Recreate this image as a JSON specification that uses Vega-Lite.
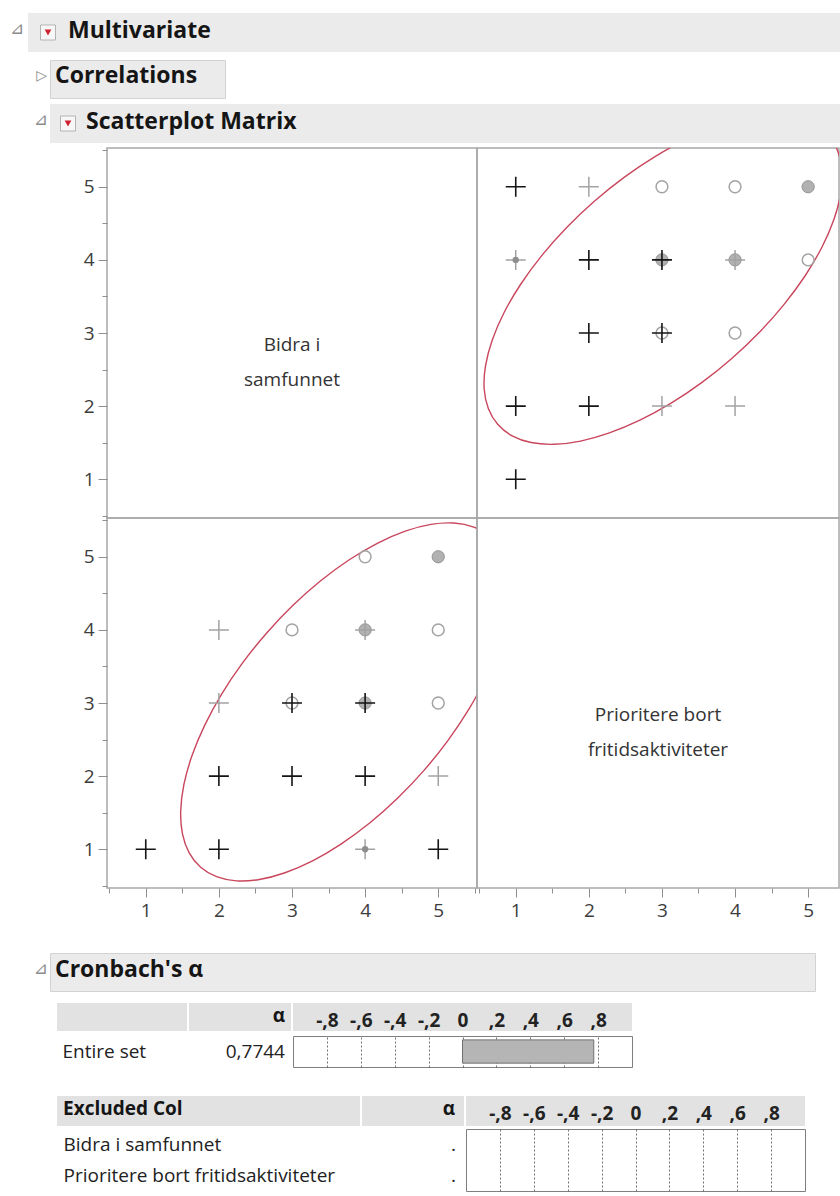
{
  "$schema": "https://vega.github.io/schema/vega-lite/v6.json",
  "background": "#ffffff",
  "padding": {"left": 0, "top": 13, "right": 0, "bottom": 0},
  "spacing": 0,
  "datasets": {
    "punkter": [
      {"bidra": 5, "prioritere": 1, "gruppe": "A", "n": 1},
      {"bidra": 5, "prioritere": 2, "gruppe": "B", "n": 1},
      {"bidra": 5, "prioritere": 3, "gruppe": "C", "n": 1},
      {"bidra": 5, "prioritere": 4, "gruppe": "C", "n": 1},
      {"bidra": 5, "prioritere": 5, "gruppe": "C", "n": 3},
      {"bidra": 4, "prioritere": 1, "gruppe": "B", "n": 3},
      {"bidra": 4, "prioritere": 2, "gruppe": "A", "n": 1},
      {"bidra": 4, "prioritere": 3, "gruppe": "A", "n": 2},
      {"bidra": 4, "prioritere": 3, "gruppe": "C", "n": 3},
      {"bidra": 4, "prioritere": 4, "gruppe": "C", "n": 3},
      {"bidra": 4, "prioritere": 4, "gruppe": "B", "n": 1},
      {"bidra": 4, "prioritere": 5, "gruppe": "C", "n": 1},
      {"bidra": 3, "prioritere": 2, "gruppe": "A", "n": 1},
      {"bidra": 3, "prioritere": 3, "gruppe": "A", "n": 1},
      {"bidra": 3, "prioritere": 3, "gruppe": "C", "n": 1},
      {"bidra": 3, "prioritere": 4, "gruppe": "C", "n": 1},
      {"bidra": 2, "prioritere": 1, "gruppe": "A", "n": 1},
      {"bidra": 2, "prioritere": 2, "gruppe": "A", "n": 1},
      {"bidra": 2, "prioritere": 3, "gruppe": "B", "n": 1},
      {"bidra": 2, "prioritere": 4, "gruppe": "B", "n": 1},
      {"bidra": 1, "prioritere": 1, "gruppe": "A", "n": 1}
    ],
    "ellipse": [
      {"t": 0, "prioritere": 5.276, "bidra": 5.703},
      {"t": 10, "prioritere": 5.079, "bidra": 5.859},
      {"t": 20, "prioritere": 4.818, "bidra": 5.951},
      {"t": 30, "prioritere": 4.503, "bidra": 5.976},
      {"t": 40, "prioritere": 4.143, "bidra": 5.932},
      {"t": 50, "prioritere": 3.749, "bidra": 5.821},
      {"t": 60, "prioritere": 3.332, "bidra": 5.646},
      {"t": 70, "prioritere": 2.905, "bidra": 5.413},
      {"t": 80, "prioritere": 2.482, "bidra": 5.129},
      {"t": 90, "prioritere": 2.075, "bidra": 4.802},
      {"t": 100, "prioritere": 1.697, "bidra": 4.443},
      {"t": 110, "prioritere": 1.358, "bidra": 4.062},
      {"t": 120, "prioritere": 1.070, "bidra": 3.670},
      {"t": 130, "prioritere": 0.841, "bidra": 3.281},
      {"t": 140, "prioritere": 0.679, "bidra": 2.905},
      {"t": 150, "prioritere": 0.587, "bidra": 2.554},
      {"t": 160, "prioritere": 0.568, "bidra": 2.238},
      {"t": 170, "prioritere": 0.625, "bidra": 1.968},
      {"t": 180, "prioritere": 0.753, "bidra": 1.751},
      {"t": 190, "prioritere": 0.951, "bidra": 1.594},
      {"t": 200, "prioritere": 1.211, "bidra": 1.502},
      {"t": 210, "prioritere": 1.526, "bidra": 1.478},
      {"t": 220, "prioritere": 1.887, "bidra": 1.522},
      {"t": 230, "prioritere": 2.281, "bidra": 1.633},
      {"t": 240, "prioritere": 2.698, "bidra": 1.807},
      {"t": 250, "prioritere": 3.125, "bidra": 2.040},
      {"t": 260, "prioritere": 3.548, "bidra": 2.324},
      {"t": 270, "prioritere": 3.955, "bidra": 2.651},
      {"t": 280, "prioritere": 4.333, "bidra": 3.010},
      {"t": 290, "prioritere": 4.671, "bidra": 3.392},
      {"t": 300, "prioritere": 4.959, "bidra": 3.783},
      {"t": 310, "prioritere": 5.188, "bidra": 4.173},
      {"t": 320, "prioritere": 5.351, "bidra": 4.549},
      {"t": 330, "prioritere": 5.443, "bidra": 4.900},
      {"t": 340, "prioritere": 5.461, "bidra": 5.216},
      {"t": 350, "prioritere": 5.405, "bidra": 5.486}
    ],
    "alfa_hele": [{"gruppe": "Entire set", "alfa": 0.7744}],
    "alfa_utelatt": [
      {"kolonne": "Bidra i samfunnet", "alfa": null},
      {"kolonne": "Prioritere bort fritidsaktiviteter", "alfa": null}
    ]
  },
  "vconcat": [
    {"hconcat": [
      {"width": 28, "height": 46, "data": {"values": []}, "mark": {"type": "point", "opacity": 0}, "encoding": {},
       "title": {"text": "⊿", "anchor": "middle", "dx": 3, "offset": -25, "font": "DejaVu Sans", "fontSize": 17, "fontWeight": "normal", "color": "#8c8c8c"}},
      {"width": 40, "height": 39, "view": {"fill": "#ebebeb"}, "data": {"values": [{"knapp": "meny"}]},
       "layer": [
         {"mark": {"type": "point", "shape": "square", "size": 225, "filled": true, "fill": "#f7f7f7", "stroke": "#b4b4b4", "strokeWidth": 1, "opacity": 1}, "encoding": {}},
         {"mark": {"type": "point", "shape": "triangle-down", "size": 45, "filled": true, "color": "#d0202f", "opacity": 1}, "encoding": {}}
       ]},
      {"width": 772, "height": 39, "view": {"fill": "#ebebeb"}, "data": {"values": []}, "mark": {"type": "point", "opacity": 0}, "encoding": {},
       "title": {"text": "Multivariate", "dx": 0, "offset": -30}}
    ], "spacing": 0, "bounds": "flush"},

    {"hconcat": [
      {"width": 50, "height": 44, "data": {"values": []}, "mark": {"type": "point", "opacity": 0}, "encoding": {},
       "title": {"text": "▷", "anchor": "end", "dx": -3, "offset": -23, "font": "DejaVu Sans", "fontSize": 14, "fontWeight": "normal", "color": "#8c8c8c"}},
      {"width": 175, "height": 38, "view": {"fill": "#ebebeb", "stroke": "#d2d2d2", "strokeWidth": 1}, "data": {"values": []}, "mark": {"type": "point", "opacity": 0}, "encoding": {},
       "title": {"text": "Correlations", "dx": 5, "offset": -28}}
    ], "spacing": 0, "bounds": "flush"},

    {"hconcat": [
      {"width": 50, "height": 43, "data": {"values": []}, "mark": {"type": "point", "opacity": 0}, "encoding": {},
       "title": {"text": "⊿", "anchor": "end", "dx": -2, "offset": -25, "font": "DejaVu Sans", "fontSize": 17, "fontWeight": "normal", "color": "#8c8c8c"}},
      {"width": 36, "height": 39, "view": {"fill": "#ebebeb"}, "data": {"values": [{"knapp": "meny"}]},
       "layer": [
         {"mark": {"type": "point", "shape": "square", "size": 225, "filled": true, "fill": "#f7f7f7", "stroke": "#b4b4b4", "strokeWidth": 1, "opacity": 1}, "encoding": {}},
         {"mark": {"type": "point", "shape": "triangle-down", "size": 45, "filled": true, "color": "#d0202f", "opacity": 1}, "encoding": {}}
       ]},
      {"width": 754, "height": 39, "view": {"fill": "#ebebeb"}, "data": {"values": []}, "mark": {"type": "point", "opacity": 0}, "encoding": {},
       "title": {"text": "Scatterplot Matrix", "dx": 0, "offset": -30}}
    ], "spacing": 0, "bounds": "flush"},

    {"hconcat": [
      {"width": 107, "height": 804, "data": {"values": []}, "mark": {"type": "point", "opacity": 0}, "encoding": {}},
      {"concat": [
        {"width": 370, "height": 370, "view": {"stroke": "#a8a8a8", "strokeWidth": 1.5},
         "data": {"values": [{"variabel": "Bidra i samfunnet"}]},
         "mark": {"type": "text", "fontSize": 19, "color": "#333333", "lineHeight": 35, "dy": 12},
         "encoding": {"text": {"value": ["Bidra i", "samfunnet"]}}},
        {"width": 362, "height": 370, "view": {"stroke": "#a8a8a8", "strokeWidth": 1.5},
         "resolve": {"axis": {"x": "independent", "y": "independent"}},
         "layer": [
           {"data": {"name": "ellipse"}, "mark": {"type": "line", "clip": true, "interpolate": "cardinal-closed", "color": "#c9465c", "strokeWidth": 1.4},
            "encoding": {
              "x": {"field": "prioritere", "type": "quantitative", "title": null,
                    "scale": {"domain": [0.47, 5.422], "nice": false, "zero": false},
                    "axis": {"orient": "bottom", "offset": 370, "values": [1, 2, 3, 4, 5], "format": "d", "tickSize": 9, "labelPadding": 4}},
              "y": {"field": "bidra", "type": "quantitative", "title": null,
                    "scale": {"domain": [0.47, 5.53], "nice": false, "zero": false},
                    "axis": {"orient": "left", "offset": 370, "values": [1, 2, 3, 4, 5], "format": "d", "tickSize": 9, "labelPadding": 4}},
              "order": {"field": "t", "type": "quantitative"}}},
           {"data": {"name": "punkter"}, "transform": [{"filter": "datum.gruppe === 'C' && datum.n > 1"}],
            "mark": {"type": "point", "shape": "circle", "filled": true, "size": 150, "fill": "#b1b1b1", "stroke": "#939393", "strokeWidth": 1, "opacity": 1},
            "encoding": {"x": {"field": "prioritere", "type": "quantitative", "axis": null}, "y": {"field": "bidra", "type": "quantitative", "axis": null}}},
           {"data": {"name": "punkter"}, "transform": [{"filter": "datum.gruppe === 'C' && datum.n === 1"}],
            "mark": {"type": "point", "shape": "circle", "filled": false, "size": 140, "color": "#a3a3a3", "strokeWidth": 1.5, "opacity": 1},
            "encoding": {"x": {"field": "prioritere", "type": "quantitative", "axis": null}, "y": {"field": "bidra", "type": "quantitative", "axis": null}}},
           {"data": {"name": "punkter"}, "transform": [{"filter": "datum.gruppe === 'B'"}],
            "mark": {"type": "point", "shape": "M-1,0H1M0,-1V1", "filled": false, "size": 400, "color": "#a3a3a3", "strokeWidth": 1.5, "opacity": 1},
            "encoding": {"x": {"field": "prioritere", "type": "quantitative", "axis": null}, "y": {"field": "bidra", "type": "quantitative", "axis": null}}},
           {"data": {"name": "punkter"}, "transform": [{"filter": "datum.gruppe === 'B' && datum.n > 1"}],
            "mark": {"type": "point", "shape": "circle", "filled": true, "size": 40, "color": "#8e8e8e", "opacity": 1},
            "encoding": {"x": {"field": "prioritere", "type": "quantitative", "axis": null}, "y": {"field": "bidra", "type": "quantitative", "axis": null}}},
           {"data": {"name": "punkter"}, "transform": [{"filter": "datum.gruppe === 'A'"}],
            "mark": {"type": "point", "shape": "M-1,0H1M0,-1V1", "filled": false, "size": 400, "color": "#151515", "strokeWidth": 1.6, "opacity": 1},
            "encoding": {
              "x": {"field": "prioritere", "type": "quantitative", "title": null,
                    "axis": {"orient": "bottom", "offset": 370, "values": [0.5, 1.5, 2.5, 3.5, 4.5], "labels": false, "tickSize": 5}},
              "y": {"field": "bidra", "type": "quantitative", "title": null,
                    "axis": {"orient": "left", "offset": 370, "values": [0.5, 1.5, 2.5, 3.5, 4.5, 5.5], "labels": false, "tickSize": 5}}}}
         ]},
        {"width": 370, "height": 370, "view": {"stroke": "#a8a8a8", "strokeWidth": 1.5},
         "resolve": {"axis": {"x": "independent", "y": "independent"}},
         "layer": [
           {"data": {"name": "ellipse"}, "mark": {"type": "line", "clip": true, "interpolate": "cardinal-closed", "color": "#c9465c", "strokeWidth": 1.4},
            "encoding": {
              "x": {"field": "bidra", "type": "quantitative", "title": null,
                    "scale": {"domain": [0.47, 5.53], "nice": false, "zero": false},
                    "axis": {"orient": "bottom", "values": [1, 2, 3, 4, 5], "format": "d", "tickSize": 9, "labelPadding": 4}},
              "y": {"field": "prioritere", "type": "quantitative", "title": null,
                    "scale": {"domain": [0.47, 5.53], "nice": false, "zero": false},
                    "axis": {"orient": "left", "values": [1, 2, 3, 4, 5], "format": "d", "tickSize": 9, "labelPadding": 4}},
              "order": {"field": "t", "type": "quantitative"}}},
           {"data": {"name": "punkter"}, "transform": [{"filter": "datum.gruppe === 'C' && datum.n > 1"}],
            "mark": {"type": "point", "shape": "circle", "filled": true, "size": 150, "fill": "#b1b1b1", "stroke": "#939393", "strokeWidth": 1, "opacity": 1},
            "encoding": {"x": {"field": "bidra", "type": "quantitative", "axis": null}, "y": {"field": "prioritere", "type": "quantitative", "axis": null}}},
           {"data": {"name": "punkter"}, "transform": [{"filter": "datum.gruppe === 'C' && datum.n === 1"}],
            "mark": {"type": "point", "shape": "circle", "filled": false, "size": 140, "color": "#a3a3a3", "strokeWidth": 1.5, "opacity": 1},
            "encoding": {"x": {"field": "bidra", "type": "quantitative", "axis": null}, "y": {"field": "prioritere", "type": "quantitative", "axis": null}}},
           {"data": {"name": "punkter"}, "transform": [{"filter": "datum.gruppe === 'B'"}],
            "mark": {"type": "point", "shape": "M-1,0H1M0,-1V1", "filled": false, "size": 400, "color": "#a3a3a3", "strokeWidth": 1.5, "opacity": 1},
            "encoding": {"x": {"field": "bidra", "type": "quantitative", "axis": null}, "y": {"field": "prioritere", "type": "quantitative", "axis": null}}},
           {"data": {"name": "punkter"}, "transform": [{"filter": "datum.gruppe === 'B' && datum.n > 1"}],
            "mark": {"type": "point", "shape": "circle", "filled": true, "size": 40, "color": "#8e8e8e", "opacity": 1},
            "encoding": {"x": {"field": "bidra", "type": "quantitative", "axis": null}, "y": {"field": "prioritere", "type": "quantitative", "axis": null}}},
           {"data": {"name": "punkter"}, "transform": [{"filter": "datum.gruppe === 'A'"}],
            "mark": {"type": "point", "shape": "M-1,0H1M0,-1V1", "filled": false, "size": 400, "color": "#151515", "strokeWidth": 1.6, "opacity": 1},
            "encoding": {
              "x": {"field": "bidra", "type": "quantitative", "title": null,
                    "axis": {"orient": "bottom", "values": [0.5, 1.5, 2.5, 3.5, 4.5, 5.5], "labels": false, "tickSize": 5}},
              "y": {"field": "prioritere", "type": "quantitative", "title": null,
                    "axis": {"orient": "left", "values": [0.5, 1.5, 2.5, 3.5, 4.5, 5.5], "labels": false, "tickSize": 5}}}}
         ]},
        {"width": 362, "height": 370, "view": {"stroke": "#a8a8a8", "strokeWidth": 1.5},
         "data": {"values": [{"variabel": "Prioritere bort fritidsaktiviteter"}]},
         "mark": {"type": "text", "fontSize": 19, "color": "#333333", "lineHeight": 35, "dy": 12},
         "encoding": {"text": {"value": ["Prioritere bort", "fritidsaktiviteter"]}}}
      ], "columns": 2, "spacing": 0, "bounds": "flush"}
    ], "spacing": 0, "bounds": "flush"},

    {"hconcat": [
      {"width": 50, "height": 50, "data": {"values": []}, "mark": {"type": "point", "opacity": 0}, "encoding": {},
       "title": {"text": "⊿", "anchor": "end", "dx": -2, "offset": -25, "font": "DejaVu Sans", "fontSize": 17, "fontWeight": "normal", "color": "#8c8c8c"}},
      {"width": 765, "height": 38, "view": {"fill": "#ebebeb", "stroke": "#d2d2d2", "strokeWidth": 1}, "data": {"values": []}, "mark": {"type": "point", "opacity": 0}, "encoding": {},
       "title": {"text": "Cronbach's α", "dx": 5, "offset": -29}}
    ], "spacing": 0, "bounds": "flush"},

    {"hconcat": [
      {"width": 55, "height": 32, "data": {"values": []}, "mark": {"type": "point", "opacity": 0}, "encoding": {}},
      {"width": 130, "height": 28, "view": {"fill": "#e2e2e2"}, "data": {"values": []}, "mark": {"type": "point", "opacity": 0}, "encoding": {}},
      {"width": 102, "height": 28, "view": {"fill": "#e2e2e2"}, "data": {"values": []}, "mark": {"type": "point", "opacity": 0}, "encoding": {},
       "title": {"text": "α", "anchor": "end", "dx": -6, "offset": -23, "fontSize": 19}},
      {"width": 339, "height": 28, "view": {"fill": "#e2e2e2"}, "data": {"values": [{}]},
       "mark": {"type": "point", "opacity": 0},
       "encoding": {"x": {"datum": 0, "type": "quantitative", "title": null, "scale": {"domain": [-1, 1], "nice": false},
                          "axis": {"orient": "top", "offset": -28, "values": [-0.8, -0.6, -0.4, -0.2, 0, 0.2, 0.4, 0.6, 0.8], "ticks": false, "tickSize": 0, "labelPadding": 5,
                                   "labelBaseline": "alphabetic", "labelFontWeight": "bold", "labelColor": "#222222",
                                   "labelExpr": "datum.value === 0 ? '0' : (datum.value < 0 ? '-' : '') + ',' + round(abs(datum.value) * 10)"}}}}
    ], "spacing": 2, "bounds": "flush"},

    {"hconcat": [
      {"width": 291, "height": 60, "data": {"values": []}, "mark": {"type": "point", "opacity": 0}, "encoding": {}},
      {"width": 339, "height": 31, "view": {"stroke": "#7f7f7f", "strokeWidth": 1, "fill": "#ffffff"},
       "data": {"name": "alfa_hele"},
       "encoding": {
         "y": {"field": "gruppe", "type": "nominal", "title": null, "sort": null,
               "scale": {"paddingInner": 0.1, "paddingOuter": 0.15},
               "axis": {"orient": "left", "ticks": false, "tickSize": 0, "labelAlign": "left", "labelPadding": 231, "labelColor": "#222222", "labelLimit": 400}}
       },
       "layer": [
         {"mark": {"type": "bar", "color": "#b5b5b5", "stroke": "#707070", "strokeWidth": 1},
          "encoding": {"x": {"field": "alfa", "type": "quantitative", "title": null,
                             "scale": {"domain": [-1, 1], "nice": false},
                             "axis": {"orient": "bottom", "values": [-0.8, -0.6, -0.4, -0.2, 0, 0.2, 0.4, 0.6, 0.8], "grid": true, "gridDash": [2, 2], "gridColor": "#707070", "gridWidth": 1,
                                      "ticks": false, "labels": false}}}},
         {"mark": {"type": "text", "align": "right", "dx": -8, "fontSize": 19, "color": "#222222"},
          "encoding": {"x": {"datum": -1, "type": "quantitative"},
                       "text": {"condition": {"test": "isValid(datum.alfa)", "field": "alfa", "type": "quantitative", "format": ".4f"}, "value": "."}}}
       ]}
    ], "spacing": 2, "bounds": "flush"},

    {"hconcat": [
      {"width": 55, "height": 32, "data": {"values": []}, "mark": {"type": "point", "opacity": 0}, "encoding": {}},
      {"width": 303, "height": 30, "view": {"fill": "#e2e2e2"}, "data": {"values": []}, "mark": {"type": "point", "opacity": 0}, "encoding": {},
       "title": {"text": "Excluded Col", "dx": 6, "offset": -23, "fontSize": 19}},
      {"width": 102, "height": 30, "view": {"fill": "#e2e2e2"}, "data": {"values": []}, "mark": {"type": "point", "opacity": 0}, "encoding": {},
       "title": {"text": "α", "anchor": "end", "dx": -9, "offset": -23, "fontSize": 19}},
      {"width": 339, "height": 30, "view": {"fill": "#e2e2e2"}, "data": {"values": [{}]},
       "mark": {"type": "point", "opacity": 0},
       "encoding": {"x": {"datum": 0, "type": "quantitative", "title": null, "scale": {"domain": [-1, 1], "nice": false},
                          "axis": {"orient": "top", "offset": -30, "values": [-0.8, -0.6, -0.4, -0.2, 0, 0.2, 0.4, 0.6, 0.8], "ticks": false, "tickSize": 0, "labelPadding": 7,
                                   "labelBaseline": "alphabetic", "labelFontWeight": "bold", "labelColor": "#222222",
                                   "labelExpr": "datum.value === 0 ? '0' : (datum.value < 0 ? '-' : '') + ',' + round(abs(datum.value) * 10)"}}}}
    ], "spacing": 2, "bounds": "flush"},

    {"hconcat": [
      {"width": 464, "height": 62, "data": {"values": []}, "mark": {"type": "point", "opacity": 0}, "encoding": {}},
      {"width": 339, "height": 62, "view": {"stroke": "#7f7f7f", "strokeWidth": 1, "fill": "#ffffff"},
       "data": {"name": "alfa_utelatt"},
       "encoding": {
         "y": {"field": "kolonne", "type": "nominal", "title": null, "sort": null,
               "scale": {"paddingInner": 0, "paddingOuter": 0},
               "axis": {"orient": "left", "ticks": false, "tickSize": 0, "labelAlign": "left", "labelPadding": 403, "labelColor": "#222222", "labelLimit": 500}}
       },
       "layer": [
         {"mark": {"type": "bar", "color": "#b5b5b5", "stroke": "#707070", "strokeWidth": 1},
          "encoding": {"x": {"field": "alfa", "type": "quantitative", "title": null,
                             "scale": {"domain": [-1, 1], "nice": false},
                             "axis": {"orient": "bottom", "values": [-0.8, -0.6, -0.4, -0.2, 0, 0.2, 0.4, 0.6, 0.8], "grid": true, "gridDash": [2, 2], "gridColor": "#707070", "gridWidth": 1,
                                      "ticks": false, "labels": false}}}},
         {"mark": {"type": "text", "align": "right", "dx": -10, "fontSize": 19, "color": "#222222"},
          "encoding": {"x": {"datum": -1, "type": "quantitative"},
                       "text": {"condition": {"test": "isValid(datum.alfa)", "field": "alfa", "type": "quantitative", "format": ".4f"}, "value": "."}}}
       ]}
    ], "spacing": 2, "bounds": "flush"}
  ],
  "config": {
    "view": {"stroke": null},
    "font": "Open Sans",
    "text": {"font": "Open Sans"},
    "title": {"font": "Open Sans", "fontSize": 23, "fontWeight": "bold", "color": "#151515", "anchor": "start", "frame": "group", "baseline": "alphabetic"},
    "axis": {"labelFont": "Open Sans", "labelFontSize": 19, "labelColor": "#3c3c3c", "tickColor": "#8f8f8f", "tickWidth": 1, "domain": false, "grid": false, "labelPadding": 3, "labelFlush": false, "labelOverlap": false},
    "locale": {"number": {"decimal": ",", "thousands": " ", "grouping": [3], "currency": ["", ""], "minus": "-"}}
  }
}
